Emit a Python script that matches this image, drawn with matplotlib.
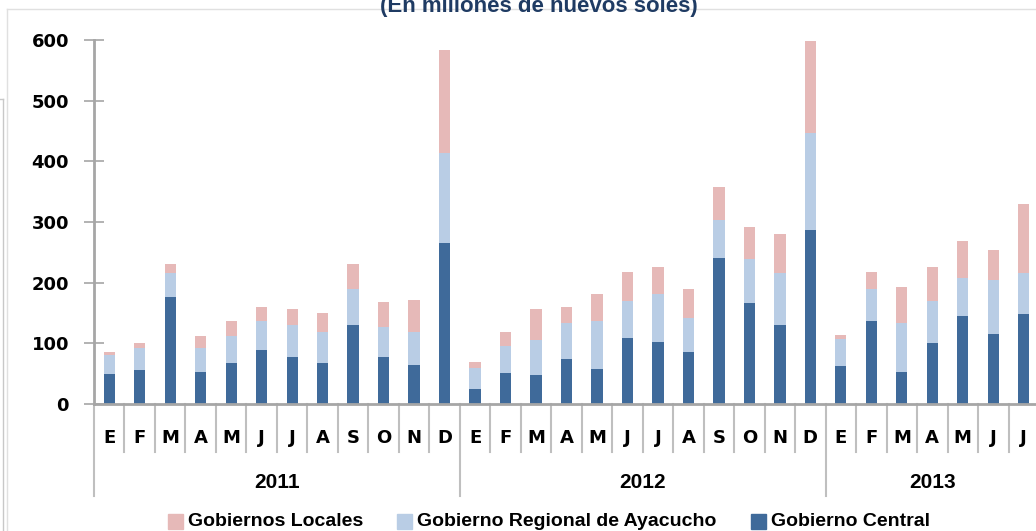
import matplotlib
matplotlib.use("Agg")
import matplotlib.pyplot as plt
from matplotlib import transforms
from matplotlib.patches import Rectangle
from matplotlib.lines import Line2D

# data (millions of soles)
months = ["E", "F", "M", "A", "M", "J", "J", "A", "S", "O", "N", "D",
          "E", "F", "M", "A", "M", "J", "J", "A", "S", "O", "N", "D",
          "E", "F", "M", "A", "M", "J", "J"]
years = ["2011", "2012", "2013"]
year_counts = [12, 12, 7]

central = [50, 56, 177, 53, 68, 89, 77, 68, 131, 77, 65, 265,
           24, 51, 48, 74, 57, 109, 103, 86, 240, 166, 131, 286,
           63, 136, 53, 101, 145, 115, 148]
regional = [31, 36, 39, 39, 44, 47, 54, 50, 58, 50, 53, 148,
            35, 44, 58, 59, 80, 60, 78, 56, 64, 73, 85, 160,
            44, 53, 80, 68, 62, 89, 68]
locales = [4, 9, 14, 20, 24, 24, 25, 32, 41, 41, 53, 171,
           10, 24, 50, 27, 44, 49, 45, 47, 53, 53, 64, 152,
           6, 29, 60, 56, 62, 50, 114]

c_central = "#3F6A9A"
c_regional = "#B9CDE5"
c_locales = "#E6B9B8"
grey = "#A6A6A6"

plt.rcParams['font.family'] = ['Liberation Sans', 'DejaVu Sans']
plt.rcParams['font.weight'] = 'bold'
wide = ['DejaVu Sans']

W, H = 1036, 531
fig = plt.figure(figsize=(W / 100, H / 100), dpi=100)

def fy(px):
    return 1 - px / H

ax = fig.add_axes([94 / W, fy(404), (1039 - 94) / W, (404 - 40) / H])

x = list(range(len(months)))
bottom2 = [a + b for a, b in zip(central, regional)]
ax.bar(x, central, width=0.37, color=c_central, zorder=2)
ax.bar(x, regional, width=0.37, bottom=central, color=c_regional, zorder=2)
ax.bar(x, locales, width=0.37, bottom=bottom2, color=c_locales, zorder=2)

ax.set_xlim(-0.5, len(months) - 0.5)
ax.set_ylim(0, 600)
ax.set_yticks(range(0, 601, 100))
ax.tick_params(axis='y', direction='inout', length=14, width=1.2, color=grey,
               labelsize=13, pad=11)
ax.tick_params(axis='x', bottom=False, labelbottom=False)
for lab in ax.get_yticklabels():
    lab.set_fontweight('bold')
    lab.set_family(wide)
for s in ['top', 'right']:
    ax.spines[s].set_visible(False)
ax.spines['left'].set_color(grey)
ax.spines['left'].set_linewidth(2)
ax.spines['bottom'].set_color(grey)
ax.spines['bottom'].set_linewidth(2)

# multi-level category axis
tr = transforms.blended_transform_factory(ax.transData, fig.transFigure)
for i, m in enumerate(months):
    ax.text(i, fy(438), m, transform=tr, ha='center', va='center',
            fontsize=13, fontweight='bold', family=wide, clip_on=False)
year_starts = [0]
for n in year_counts:
    year_starts.append(year_starts[-1] + n)
for k in range(len(months) + 1):
    y_end = 496 if k in year_starts[:-1] else 452
    ax.add_line(Line2D([k - 0.5, k - 0.5], [fy(404), fy(y_end)], transform=tr,
                       color="#BFBFBF", lw=1.5, clip_on=False))
for yr, s, n in zip(years, year_starts, year_counts):
    xc = s + n / 2 - 0.5
    ax.text(xc, fy(482), yr, transform=tr, ha='center', va='center',
            fontsize=15, fontweight='bold', clip_on=False)

# title (partly cut at top)
fig.text(539 / W, fy(12), "(En millones de nuevos soles)", ha='center',
         va='baseline', fontsize=16, fontweight='bold', color="#1F3B63")

# frame leftovers of the screenshot
fig.add_artist(Line2D([7 / W, 1], [fy(9), fy(9)], color="#E0E0E0", lw=1, zorder=0))
fig.add_artist(Line2D([7 / W, 7 / W], [fy(9), 0], color="#E0E0E0", lw=1))
fig.add_artist(Line2D([0, 3 / W], [fy(99), fy(99)], color="#C8C8C8", lw=1))
fig.add_artist(Line2D([3 / W, 3 / W], [fy(99), 0], color="#C8C8C8", lw=1))

# legend
legend_items = [("Gobiernos Locales", c_locales, 168),
                ("Gobierno Regional de Ayacucho", c_regional, 397),
                ("Gobierno Central", c_central, 751)]
for name, col, px in legend_items:
    fig.add_artist(Rectangle((px / W, fy(529)), 15 / W, 15 / H,
                             transform=fig.transFigure, color=col))
    fig.text((px + 20) / W, fy(521), name, ha='left', va='center',
             fontsize=14, fontweight='bold')

fig.savefig("out.png", dpi=100)
